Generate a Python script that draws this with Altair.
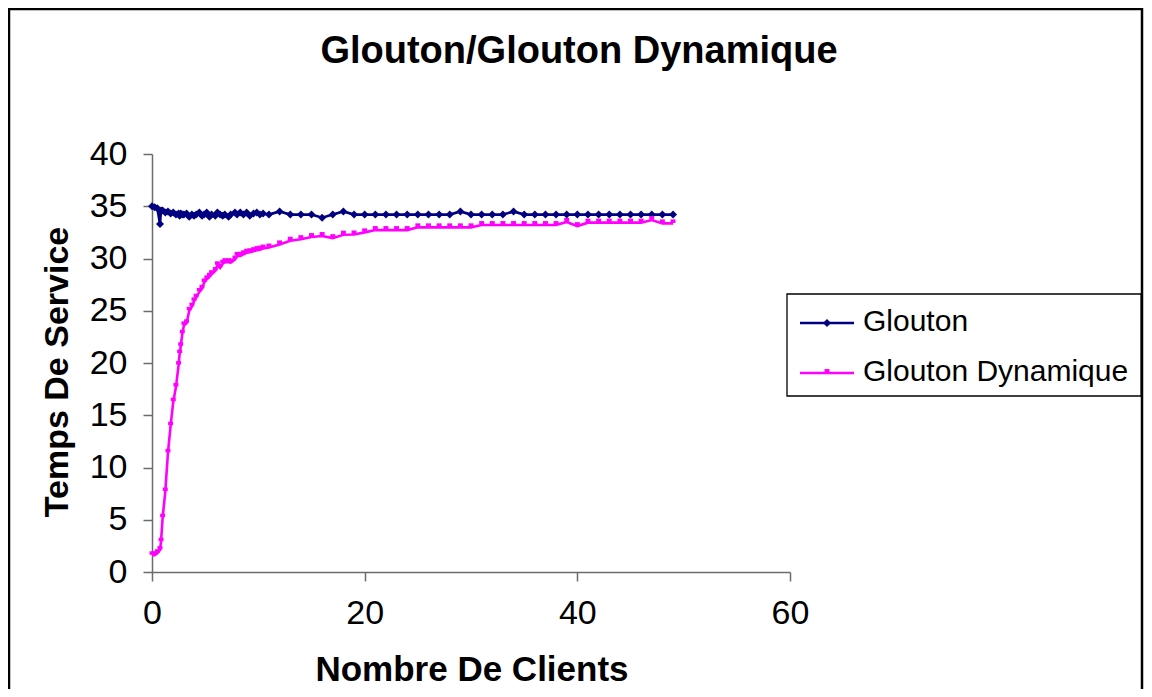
import altair as alt
import pandas as pd

FONT = "Liberation Sans"

TITLE = "Glouton/Glouton Dynamique"
X_TITLE = "Nombre De Clients"
Y_TITLE = "Temps De Service"
SERIES = ["Glouton", "Glouton Dynamique"]
COLORS = ["#000080", "#FF00FF"]

X_TICKS = [0, 20, 40, 60]
Y_TICKS = [0, 5, 10, 15, 20, 25, 30, 35, 40]

clients = [
    0.0, 0.25, 0.5, 0.75, 0.85, 1.0, 1.25, 1.5, 1.75, 2.0, 2.25, 2.5, 2.6, 2.7, 2.85,
    3.0, 3.25, 3.5, 3.75, 3.95, 4.15, 4.45, 4.7, 4.9, 5.15, 5.4, 5.6, 5.95, 6.15, 6.4,
    6.65, 6.85, 7.2, 7.4, 7.8, 8.0, 8.3, 8.6, 8.9, 9.2, 9.55, 9.85, 10.15, 10.45,
    11, 12, 13, 14, 15, 16, 17, 18, 19, 20, 21, 22, 23, 24, 25, 26, 27, 28, 29, 30,
    31, 32, 33, 34, 35, 36, 37, 38, 39, 40, 41, 42, 43, 44, 45, 46, 47, 48, 49,
]

glouton = [
    35.0, 34.9, 34.8, 33.3, 34.6, 34.6, 34.4, 34.5, 34.3, 34.4, 34.2, 34.3, 34.1, 34.3, 34.2,
    34.2, 34.3, 34.0, 34.2, 34.1, 34.2, 34.4, 34.1, 34.2, 34.4, 34.0, 34.2, 34.1, 34.4, 34.2,
    34.1, 34.2, 34.0, 34.2, 34.4, 34.2, 34.4, 34.2, 34.4, 34.1, 34.3, 34.4, 34.2, 34.3,
    34.2, 34.5, 34.2, 34.2, 34.2, 33.9, 34.2, 34.5, 34.2, 34.2, 34.2, 34.2, 34.2, 34.2, 34.2, 34.2,
    34.2, 34.2, 34.5, 34.2, 34.2, 34.2, 34.2, 34.5, 34.2, 34.2, 34.2, 34.2, 34.2, 34.2, 34.2, 34.2,
    34.2, 34.2, 34.2, 34.2, 34.2, 34.2, 34.2,
]

dynamique = [
    1.6, 1.6, 1.8, 2.1, 2.9, 5.2, 7.7, 11.4, 14.0, 16.3, 17.7, 19.8, 20.9, 21.6, 22.8,
    23.6, 23.8, 25.0, 25.4, 25.9, 26.25, 26.8, 27.1, 27.7, 28.0, 28.25, 28.5, 28.8, 29.35, 29.1,
    29.5, 29.65, 29.65, 29.6, 29.9, 30.25, 30.25, 30.4, 30.55, 30.6, 30.7, 30.8, 30.85, 30.95,
    31.05, 31.35, 31.7, 31.85, 32.05, 32.15, 31.95, 32.28, 32.3, 32.5, 32.72, 32.72, 32.72, 32.72,
    32.98, 32.98, 32.98, 32.98, 32.98, 32.98, 33.2, 33.2, 33.2, 33.2, 33.2, 33.2, 33.2, 33.2,
    33.5, 33.1, 33.43, 33.43, 33.43, 33.43, 33.43, 33.43, 33.68, 33.36, 33.36,
]

df = pd.DataFrame({"clients": clients, SERIES[0]: glouton, SERIES[1]: dynamique})
long = df.melt("clients", var_name="serie", value_name="temps")

W, H = 638, 418

DIAMOND = "M-1,0L0,-1L1,0L0,1Z"
SQUARE = "M-0.62,-1.0L0.62,-1.0L0.62,-0.12L-0.62,-0.12Z"

color = alt.Color("serie:N", scale=alt.Scale(domain=SERIES, range=COLORS), legend=None)
shape = alt.Shape("serie:N", scale=alt.Scale(domain=SERIES, range=[DIAMOND, SQUARE]), legend=None)

AXIS_COL = "#6b6b6b"
x_enc = alt.X(
    "clients:Q",
    scale=alt.Scale(domain=[0, 60], nice=False),
    axis=alt.Axis(values=X_TICKS, grid=False, title=None, labelFlush=False,
                  labelFontSize=34, labelFont=FONT, labelColor="black",
                  tickSize=9, labelPadding=15, domainColor=AXIS_COL, tickColor=AXIS_COL,
                  domainWidth=1.5, tickWidth=1.5),
)
y_enc = alt.Y(
    "temps:Q",
    scale=alt.Scale(domain=[0, 40], nice=False),
    axis=alt.Axis(values=Y_TICKS, grid=False, title=None,
                  labelFontSize=34, labelFont=FONT, labelColor="black",
                  tickSize=9, labelPadding=16, domainColor=AXIS_COL, tickColor=AXIS_COL,
                  domainWidth=1.5, tickWidth=1.5),
)

base = alt.Chart(long)
lines = base.mark_line(strokeWidth=2.6).encode(x=x_enc, y=y_enc, color=color, detail="serie:N")
points = base.mark_point(filled=True, opacity=1, strokeWidth=0, size=64).encode(
    x="clients:Q", y="temps:Q", color=color, shape=shape
)

# chart-area border
frame = alt.Chart(pd.DataFrame({"k": [0]})).mark_rect(
    fillOpacity=0, stroke="black", strokeWidth=2.5
).encode(x=alt.value(-143), x2=alt.value(990), y=alt.value(-145), y2=alt.value(600))

title = alt.Chart(pd.DataFrame({"t": [TITLE]})).mark_text(
    font=FONT, fontSize=38, fontWeight="bold", align="center", baseline="alphabetic", color="black"
).encode(text="t:N", x=alt.value(427), y=alt.value(-91))

xtitle = alt.Chart(pd.DataFrame({"t": [X_TITLE]})).mark_text(
    font=FONT, fontSize=35, fontWeight="bold", align="center", baseline="alphabetic", color="black"
).encode(text="t:N", x=alt.value(320), y=alt.value(527))

ytitle = alt.Chart(pd.DataFrame({"t": [Y_TITLE]})).mark_text(
    font=FONT, fontSize=34, fontWeight="bold", align="center", baseline="alphabetic",
    color="black", angle=270
).encode(text="t:N", x=alt.value(-84), y=alt.value(218))

# legend
leg_box = alt.Chart(pd.DataFrame({"k": [0]})).mark_rect(
    fill="white", stroke="black", strokeWidth=1.3
).encode(x=alt.value(635), x2=alt.value(989), y=alt.value(140), y2=alt.value(242))

leg_layers = []
for i, (name, col) in enumerate(zip(SERIES, COLORS)):
    yy = 169 + 50 * i
    d = pd.DataFrame({"serie": [name]})
    leg_layers.append(
        alt.Chart(d).mark_rule(color=col, strokeWidth=2.6).encode(
            x=alt.value(648), x2=alt.value(702), y=alt.value(yy)
        )
    )
    leg_layers.append(
        alt.Chart(d).mark_point(filled=True, opacity=1, strokeWidth=0, size=64,
                                color=col, shape=[DIAMOND, SQUARE][i]).encode(
            x=alt.value(675), y=alt.value(yy)
        )
    )
    leg_layers.append(
        alt.Chart(d).mark_text(font=FONT, fontSize=30, align="left", baseline="alphabetic",
                               color="black").encode(
            text="serie:N", x=alt.value(711), y=alt.value(yy + 8)
        )
    )

chart = alt.layer(
    frame, lines, points, title, xtitle, ytitle, leg_box, *leg_layers
).properties(
    width=W, height=H,
    autosize=alt.AutoSizeParams(type="none"),
    padding={"left": 144, "top": 146, "right": 354, "bottom": 117},
    background="white",
).configure_view(stroke=None)

chart.save("out.html", embed_options={"renderer": "svg", "actions": False})
